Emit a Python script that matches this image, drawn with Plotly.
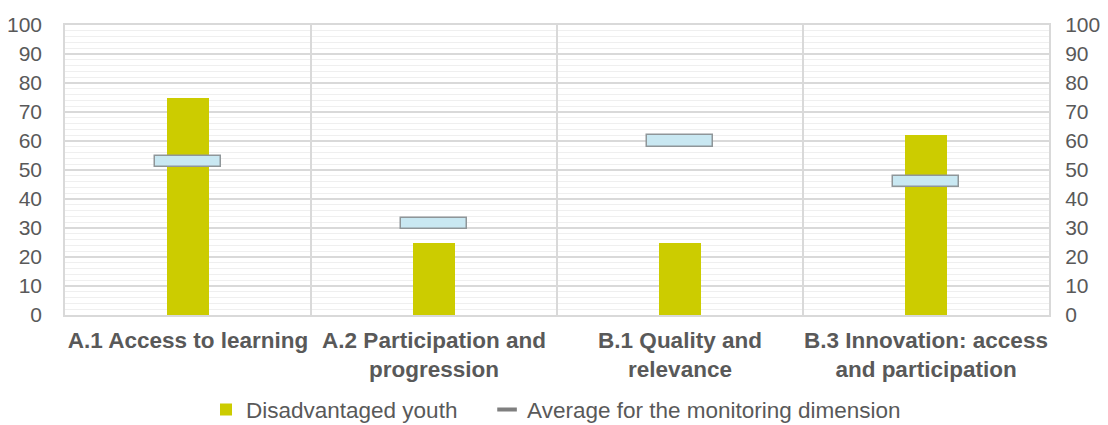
import plotly.graph_objects as go

categories = ["A.1 Access to learning", "A.2 Participation and<br>progression",
              "B.1 Quality and<br>relevance", "B.3 Innovation: access<br>and participation"]
disadvantaged = [75, 25, 25, 62]
average = [53, 31.5, 60, 46]
series_names = ["Disadvantaged youth", "Average for the monitoring dimension"]
y_ticks = list(range(0, 101, 10))

marker_h = 4.0  # height of the average marker in value units

fig = go.Figure()
fig.add_trace(go.Bar(
    x=categories, y=disadvantaged, name=series_names[0], legend="legend",
    marker=dict(color="#cccc00", line=dict(width=0)), width=0.167,
))
fig.add_trace(go.Bar(
    x=categories, y=[marker_h] * len(average), base=[a - marker_h / 2 for a in average],
    width=0.27, showlegend=False, name=series_names[1],
    marker=dict(color="#c9e8f2", line=dict(color="#8f9699", width=1.5)),
))
fig.add_trace(go.Scatter(
    x=[categories[0]], y=[None], mode="markers", name=series_names[1], legend="legend2",
    marker=dict(symbol="line-ew", size=14, line=dict(color="#7f7f7f", width=4)),
))
fig.add_trace(go.Scatter(x=[categories[0]], y=[None], yaxis="y2", showlegend=False, hoverinfo="skip"))

FONT = "Liberation Sans, Arial, sans-serif"
axis_font = dict(family=FONT, size=21, color="#595959")
legend_common = dict(
    orientation="h", xref="container", yref="container", xanchor="left",
    y=0.036, yanchor="middle",
    font=dict(family=FONT, size=22.5, color="#595959"),
    itemsizing="trace", itemwidth=30, bgcolor="rgba(0,0,0,0)",
)
fig.update_layout(
    width=1100, height=417,
    margin=dict(l=57, r=59, t=17, b=110),
    paper_bgcolor="white", plot_bgcolor="white",
    barmode="overlay", bargap=0,
    font=dict(family=FONT),
    xaxis=dict(
        type="category", tickson="boundaries", showgrid=True, gridcolor="#d9d9d9", gridwidth=1.5,
        showline=True, linecolor="#d9d9d9", linewidth=1.5, mirror=True,
        ticks="outside", ticklen=17, tickcolor="rgba(0,0,0,0)", tickangle=0,
        ticklabelstandoff=4,
        tickfont=dict(family=FONT, size=22.5, color="#595959", weight="bold"),
        range=[-0.5, 3.5], automargin=False,
    ),
    yaxis=dict(
        range=[0, 100], tickvals=y_ticks, showgrid=True, gridcolor="#d9d9d9", gridwidth=1.5,
        showline=True, linecolor="#d9d9d9", linewidth=1.5, mirror=True,
        ticks="outside", ticklen=17, tickcolor="rgba(0,0,0,0)",
        tickfont=axis_font, zeroline=False, automargin=False,
        minor=dict(dtick=2, showgrid=True, gridcolor="#efefef", gridwidth=1, ticks=""),
    ),
    yaxis2=dict(
        range=[0, 100], tickvals=y_ticks, overlaying="y", side="right", showgrid=False,
        ticks="outside", ticklen=11, tickcolor="rgba(0,0,0,0)",
        tickfont=axis_font, zeroline=False, automargin=False,
    ),
    legend=dict(legend_common, x=0.180),
    legend2=dict(legend_common, x=0.4355),
)
fig.write_html("out.html")
